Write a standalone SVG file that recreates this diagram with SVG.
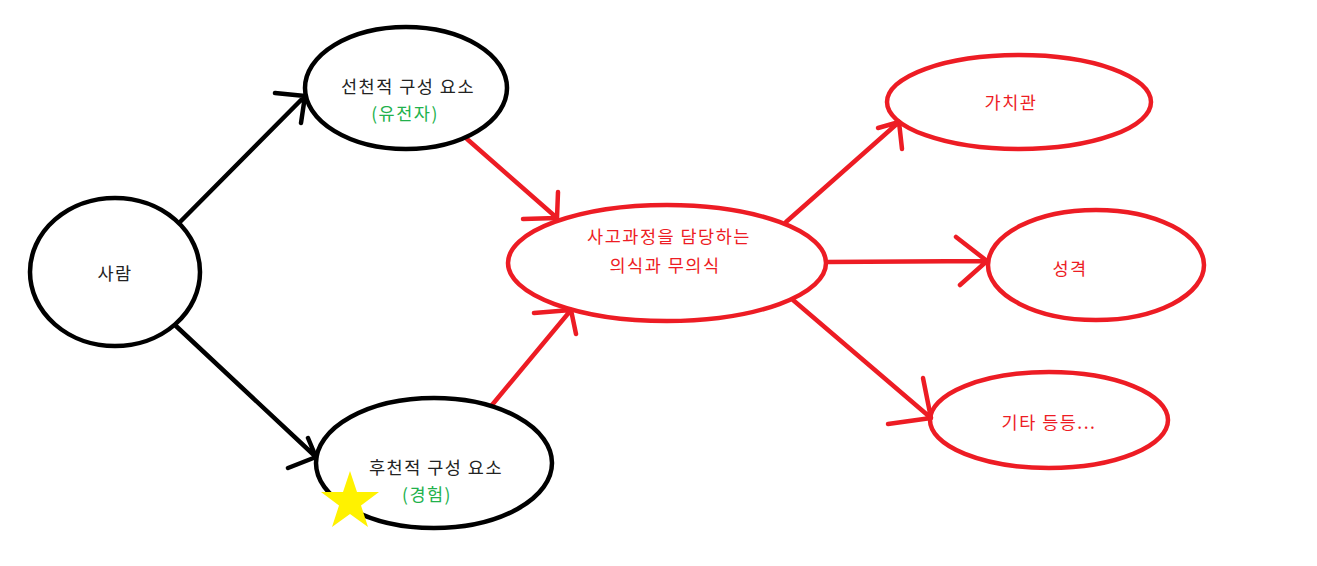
<svg xmlns="http://www.w3.org/2000/svg" width="1317" height="566" viewBox="0 0 1317 566">
<style>
.bk{fill:none;stroke:#000;stroke-width:4.5;stroke-linecap:round;stroke-linejoin:round}
.rd{fill:none;stroke:#ed1c24;stroke-width:4.5;stroke-linecap:round;stroke-linejoin:round}
text{font-family:"Noto Sans CJK KR","Noto Sans",sans-serif;font-size:17.5px;letter-spacing:1.5px;text-anchor:middle}
.t{fill:#222}
.g{fill:#22b14c}
.r{fill:#ed1c24}
</style>
<rect width="1317" height="566" fill="#fff"/>
<g id="connectors">
<path class="bk" d="M180,222 L305,96 M275,93 L305,96 L301,123"/>
<path class="bk" d="M176,326 L316,457 M288,468 L316,457 L308,438"/>
<path class="rd" d="M467,139 L557,218 M523,219 L557,218 L558,192"/>
<path class="rd" d="M492,405 L571,310 M534,313 L571,310 L576,334"/>
<path class="rd" d="M786,222 L899,122 M878,128 L899,122 L902,149"/>
<path class="rd" d="M827,262 L987,261 M956,237 L987,261 L960,285"/>
<path class="rd" d="M793,300 L931,418 M888,424 L931,418 L923,378"/>
</g>
<g id="person">
<ellipse class="bk" cx="115" cy="272" rx="85" ry="74"/>
<text class="t" x="115" y="280">사람</text>
</g>
<g id="innate">
<ellipse class="bk" cx="406" cy="88" rx="101" ry="61"/>
<text class="t" x="408" y="93">선천적 구성 요소</text>
<text class="g" x="405" y="120">(유전자)</text>
</g>
<g id="acquired">
<ellipse class="bk" cx="434" cy="463" rx="118" ry="65"/>
<text class="t" x="436" y="474">후천적 구성 요소</text>
<text class="g" x="427" y="501">(경험)</text>
<path fill="#fff200" d="M350,471 L357,492 L379,492 L361,505.5 L368,527 L350,514 L332,527 L339,505.5 L321,492 L343,492 Z"/>
</g>
<g id="mind">
<ellipse class="rd" cx="667" cy="263" rx="159" ry="58"/>
<text class="r" x="669" y="243">사고과정을 담당하는</text>
<text class="r" x="665" y="272">의식과 무의식</text>
</g>
<g id="values">
<ellipse class="rd" cx="1019" cy="102" rx="132" ry="47"/>
<text class="r" x="1011" y="109">가치관</text>
</g>
<g id="personality">
<ellipse class="rd" cx="1096" cy="265" rx="108" ry="55"/>
<text class="r" x="1070" y="275">성격</text>
</g>
<g id="etc">
<ellipse class="rd" cx="1049" cy="420" rx="119" ry="48"/>
<text class="r" x="1049" y="429">기타 등등...</text>
</g>
</svg>
